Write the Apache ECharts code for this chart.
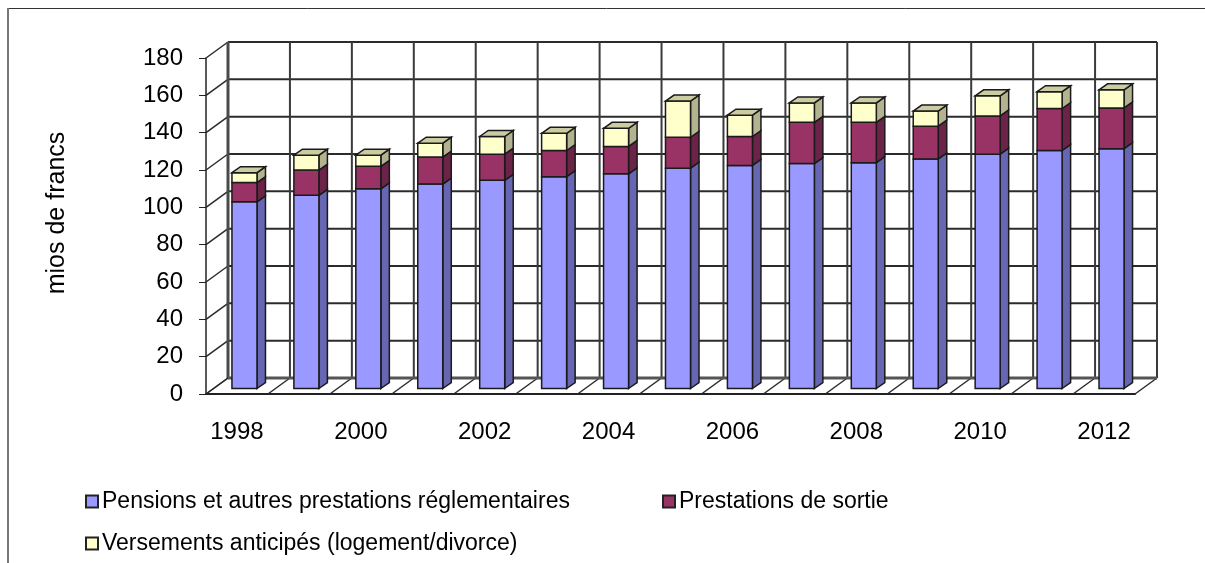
<!DOCTYPE html>
<html>
<head>
<meta charset="utf-8">
<style>html,body{margin:0;padding:0;background:#fff}#chart{width:1205px;height:563px}</style>
<script src="https://cdn.jsdelivr.net/npm/echarts@6/dist/echarts.min.js"></script>
</head>
<body>
<div id="chart"></div>
<script>
// Caisse de pensions: prestations versées par année, en millions de francs
const years = ['1998','1999','2000','2001','2002','2003','2004','2005','2006','2007','2008','2009','2010','2011','2012'];
const pensions = [100,103.5,107,109.5,111.5,113.5,115,118,119.5,120.5,121,123,125.5,127.5,128.5];
const sorties = [10.3,13.5,12,14.5,14,14,14.7,16.6,15.5,22.1,21.6,17.5,20.5,22.5,21.8];
const anticipes = [5.3,8,6,7.4,9.5,9.2,9.7,19.4,11.4,10.4,10.4,8.1,10.8,9,9.7];
const yTicks = [0,20,40,60,80,100,120,140,160,180];
const seriesNames = ['Pensions et autres prestations réglementaires','Prestations de sortie','Versements anticipés (logement/divorce)'];
const seriesColors = ['#9999FF','#993366','#FFFFCC'];
const sideColors = ['#6666B3','#6B2447','#B3B38F'];
const topColors = ['#B8B8FF','#B8668C','#CCCCA3'];
const seriesValues = [pensions, sorties, anticipes];

// Projection de la profondeur pour le décor en pseudo-3D
const DEPTH_X = 22, DEPTH_Y = -16;
const BAR_SHIFT_X = 7.5, BAR_SHIFT_Y = -5.5, BAR_DEPTH_X = 8.5, BAR_DEPTH_Y = -6;
const BAR_RATIO = 0.404;
const EDGE = '#1a1a1a';

function line(x1, y1, x2, y2, color, width) {
  return {type:'line', shape:{x1,y1,x2,y2}, style:{stroke:color, lineWidth:width}, silent:true};
}

// Parois et plancher du repère
function renderWalls(params, api) {
  const band = api.size([1,0])[0];
  const left = api.coord([0,0])[0] - band/2;
  const n = years.length;
  const right = left + band*n;
  const y0 = api.coord([0,0])[1];
  const yMax = api.coord([0,180])[1];
  const children = [];
  yTicks.forEach(v => {
    const y = api.coord([0,v])[1];
    if (v > 0) children.push(line(left+DEPTH_X,y+DEPTH_Y,right+DEPTH_X,y+DEPTH_Y,'#2b2b2b',2));
    children.push(line(left,y,left+DEPTH_X,y+DEPTH_Y,'#2b2b2b',1.5));
  });
  for (let k=0;k<=n;k++) {
    const x = left+band*k;
    children.push(line(x+DEPTH_X,yMax+DEPTH_Y,x+DEPTH_X,y0+DEPTH_Y,k===0?'#4a4a4a':'#3a3a3a',k===0?3:2));
    children.push(line(x,y0,x+DEPTH_X,y0+DEPTH_Y,'#2b2b2b',1.5));
  }
  children.push(line(left+DEPTH_X,y0+DEPTH_Y,right+DEPTH_X,y0+DEPTH_Y,'#555',3));
  return {type:'group', children};
}

// Colonne empilée: face avant, flanc droit et dessus
function renderSegment(s) {
  return function(params, api) {
    const i = api.value(0);
    let base = 0;
    for (let k=0;k<s;k++) base += seriesValues[k][i];
    const top = base + seriesValues[s][i];
    const band = api.size([1,0])[0];
    const w = band*BAR_RATIO;
    const c0 = api.coord([i,base]);
    const c1 = api.coord([i,top]);
    const x0 = c0[0] + BAR_SHIFT_X - w/2;
    const x1 = x0 + w;
    const yb = c0[1] + BAR_SHIFT_Y;
    const yt = c1[1] + BAR_SHIFT_Y;
    const dx = BAR_DEPTH_X, dy = BAR_DEPTH_Y;
    const children = [
      {type:'polygon', shape:{points:[[x1,yb],[x1+dx,yb+dy],[x1+dx,yt+dy],[x1,yt]]}, style:{fill:sideColors[s],stroke:EDGE,lineWidth:1.5}},
      {type:'rect', shape:{x:x0,y:yt,width:w,height:yb-yt}, style:{fill:seriesColors[s],stroke:EDGE,lineWidth:1.5}}
    ];
    if (s === seriesValues.length-1) {
      children.push({type:'polygon', shape:{points:[[x0,yt],[x0+dx,yt+dy],[x1+dx,yt+dy],[x1,yt]]}, style:{fill:topColors[s],stroke:EDGE,lineWidth:1.5}});
    }
    return {type:'group', children};
  };
}

const legendBase = {orient:'horizontal', itemWidth:12, itemHeight:12, itemGap:0,
  textStyle:{fontFamily:'Liberation Sans', fontSize:23, color:'#000', padding:[0,0,0,-1]}, selectedMode:false, icon:'rect', padding:0};

const chart = echarts.init(document.getElementById('chart'), null, {renderer:'canvas'});
chart.setOption({
  animation:false,
  backgroundColor:'#fff',
  grid:{left:206, right:70, top:58, bottom:169},
  legend:[
    Object.assign({}, legendBase, {left:85, top:490, data:[seriesNames[0]]}),
    Object.assign({}, legendBase, {left:662, top:490, data:[seriesNames[1]]}),
    Object.assign({}, legendBase, {left:85, top:532, data:[seriesNames[2]]})
  ],
  xAxis:{type:'category', data:years, boundaryGap:true,
    axisLine:{lineStyle:{color:'#222',width:2}},
    axisTick:{length:6,lineStyle:{color:'#222'},interval:0},
    axisLabel:{interval:1, margin:26, fontFamily:'Liberation Sans', fontSize:24, color:'#000'},
    splitLine:{show:false}},
  yAxis:{type:'value', min:0, max:180, interval:20,
    name:'mios de francs', nameLocation:'middle', nameGap:136, nameRotate:90,
    nameTextStyle:{fontFamily:'Liberation Sans', fontSize:25, color:'#000', padding:[0,0,0,26]},
    axisLine:{show:true,lineStyle:{color:'#222',width:1.5}},
    axisTick:{show:true,length:7,lineStyle:{color:'#222'}},
    axisLabel:{margin:23, fontFamily:'Liberation Sans', fontSize:24, color:'#000'},
    splitLine:{show:false}},
  graphic:[
    {type:'line', z:0, shape:{x1:8,y1:8.5,x2:1205,y2:8.5}, style:{stroke:'#333',lineWidth:1}},
    {type:'line', z:0, shape:{x1:8,y1:8,x2:8,y2:563}, style:{stroke:'#777',lineWidth:2}}
  ],
  series:[
    {type:'custom', name:'parois', coordinateSystem:'cartesian2d', silent:true, z:1, data:[[0,0]], renderItem:renderWalls, encode:{x:0,y:1}, tooltip:{show:false}}
  ].concat(seriesNames.map((name,s)=>({
    type:'custom', name, coordinateSystem:'cartesian2d', z:2+s,
    itemStyle:{color:seriesColors[s], borderColor:'#222', borderWidth:1},
    data:years.map((y,i)=>[i,seriesValues[s][i]]),
    encode:{x:0,y:1}, renderItem:renderSegment(s)
  })))
});
</script>
</body>
</html>
